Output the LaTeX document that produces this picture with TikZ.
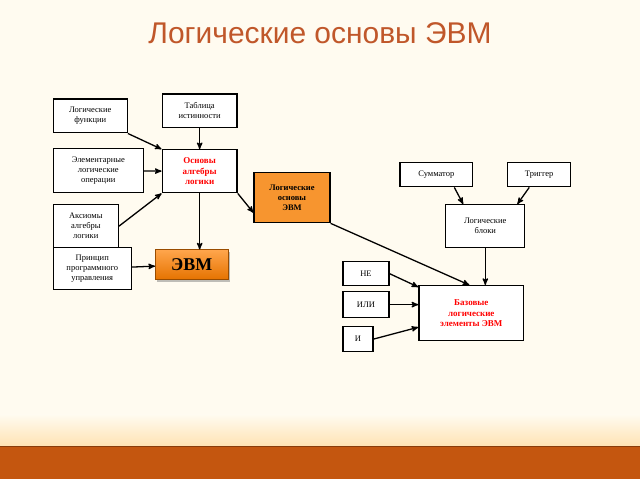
\documentclass[tikz,border=0pt]{standalone}
\usepackage{fontspec}
\setmainfont{Liberation Serif}
\newfontfamily\titlefont{Liberation Sans}
\usetikzlibrary{arrows,calc,positioning,shadows}
\definecolor{paper}{HTML}{FFFBF0}
\definecolor{band}{HTML}{C4560F}
\definecolor{title}{HTML}{C0572A}
\definecolor{boxorange}{HTML}{F7952F}
\tikzset{blk/.style={draw,line width=1.3pt,fill=white,align=center,font=\fontsize{8.5}{10}\selectfont,inner sep=2pt},
	arr/.style={->,>=stealth',line width=1.3pt}}
\begin{document}
\begin{tikzpicture}[x=1pt,y=-1pt]
	\fill[paper] (0,0) rectangle (640,480);
	\shade[top color=paper,bottom color=yellow!25!orange!30] (0,415) rectangle (640,447);
	\fill[band] (0,447) rectangle (640,480);
	\draw[band!70!black,thick] (0,447) -- (640,447);
	
	\node[font=\titlefont\fontsize{30}{34}\selectfont,text=title] (T) at (320,33) {Логические основы ЭВМ};
	
	% left part
	\node[blk,minimum width=75,minimum height=34] (tab) at (199.5,111) {Таблица\\истинности};
	\node[blk,minimum width=74,minimum height=34] (fun) at (90,116) {Логические\\функции};
	\node[blk,minimum width=90,minimum height=44] (elem) at (98,171) {Элементарные\\логические\\операции};
	\node[blk,minimum width=75,minimum height=43,text=red,font=\bfseries\fontsize{9}{10.5}\selectfont] (osn) at (199.5,171.5) {Основы\\алгебры\\логики};
	\node[blk,minimum width=76,minimum height=50,fill=boxorange,font=\bfseries\fontsize{8.5}{10}\selectfont] (lob) at (292,198) {Логические\\основы\\ЭВМ};
	\node[blk,minimum width=65,minimum height=43] (aks) at (85.5,226.5) {Аксиомы\\алгебры\\логики};
	\node[blk,minimum width=78,minimum height=42] (prn) at (92,269) {Принцип\\программного\\управления};
	\node[draw=orange!60!black,top color=orange!70,bottom color=orange!90!black,drop shadow,minimum width=73,minimum height=30,
		font=\bfseries\fontsize{18}{20}\selectfont] (evm) at (191.5,265) {ЭВМ};
	
	% right part
	\node[blk,minimum width=73,minimum height=24] (sum) at (436.5,175) {Сумматор};
	\node[blk,minimum width=63,minimum height=24] (trg) at (539.5,175) {Триггер};
	\node[blk,minimum width=79,minimum height=43] (blc) at (485.5,226.5) {Логические\\блоки};
	\node[blk,minimum width=46,minimum height=24] (ne) at (366,274) {НЕ};
	\node[blk,minimum width=46,minimum height=26] (ili) at (366,305) {ИЛИ};
	\node[blk,minimum width=30,minimum height=25] (i) at (358,339.5) {И};
	\node[blk,minimum width=105,minimum height=55,text=red,font=\bfseries\fontsize{9}{10.5}\selectfont] (baz) at (471.5,313.5) {Базовые\\логические\\элементы ЭВМ};
	
	\draw[arr] (fun.south east) -- (osn.north west);
	\draw[arr] (elem) -- (osn);
	\draw[arr] (aks.east) -- (osn.south west);
	\draw[arr] (tab) -- (osn);
	\draw[arr] (osn.south) -- (osn.south |- evm.north);
	\draw[arr] (osn.south east) -- ($(lob.west)+(0,15)$);
	\draw[arr] (prn) -- (evm);
	\draw[arr] (lob.south east) -- ($(baz.north)+(-2,0)$);
	\draw[arr] ($(sum.south)+(18,0)$) -- ($(blc.north west)+(18,0)$);
	\draw[arr] ($(trg.south)+(-10,0)$) -- ($(blc.north east)+(-8,0)$);
	\draw[arr] (blc.south) -- (blc.south |- baz.north);
	\draw[arr] (ne.east) -- ($(baz.north west)+(0,2)$);
	\draw[arr] (ili) -- (baz.west |- ili);
	\draw[arr] (i.east) -- ($(baz.south west)+(0,-14)$);
\end{tikzpicture}
\end{document}
